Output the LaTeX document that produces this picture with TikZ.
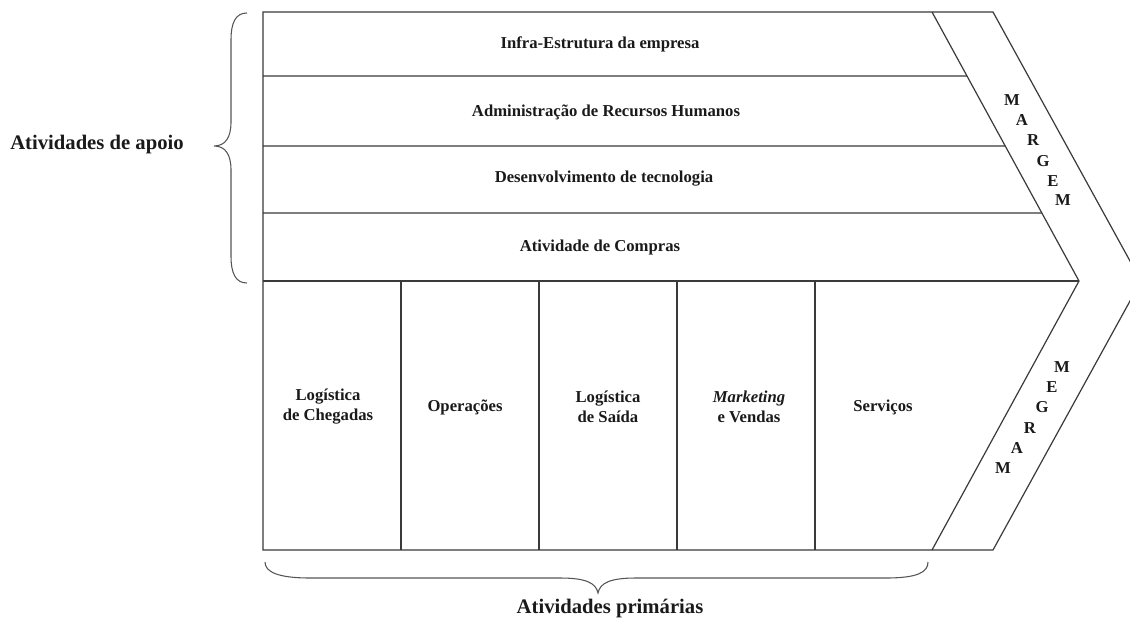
\documentclass[tikz,border=0pt]{standalone}
\usepackage{fontspec}
\setmainfont{Liberation Serif}
\usetikzlibrary{calc}
\definecolor{linec}{HTML}{3A3A3A}
\definecolor{txt}{HTML}{1A1A1A}
\definecolor{bracec}{HTML}{555555}
\begin{document}
\begin{tikzpicture}[x=0.75pt,y=-0.75pt]
\tikzset{
  frame/.style={draw=linec, line width=0.9pt},
  lbl/.style={font=\fontsize{12.5}{15}\selectfont\bfseries, text=txt, align=center, inner sep=0pt},
  sidelbl/.style={font=\fontsize{15.5}{18}\selectfont\bfseries, text=txt, align=center, inner sep=0pt},
  letter/.style={font=\fontsize{12.5}{14}\selectfont\bfseries, text=txt, inner sep=0pt},
  bracepath/.style={draw=bracec, line width=0.8pt}
}
\useasboundingbox (0,0) rectangle (1130,621);
\fill[white] (0,0) rectangle (1130,621);
% geometry
\coordinate (TL) at (263,12);
\coordinate (TI) at (932,12);
\coordinate (TO) at (993,12);
\coordinate (MI) at (1079,281);
\coordinate (MO) at (1141,281);
\coordinate (BI) at (932,550);
\coordinate (BO) at (993,550);
\coordinate (BL) at (263,550);
\begin{scope}
  \clip (0,0) rectangle (1130,621);
  \draw[frame] (TL) -- (TO) -- (MO) -- (BO) -- (BL) -- cycle;
\end{scope}
\draw[frame] (TI) -- (MI) -- (BI);
\draw[frame] (263,76) -- ($(TI)!{64/269}!(MI)$);
\draw[frame] (263,146) -- ($(TI)!{134/269}!(MI)$);
\draw[frame] (263,213) -- ($(TI)!{201/269}!(MI)$);
\draw[frame] (263,281) -- (MI);
\foreach \x in {401,539,677,815} \draw[frame] (\x,281) -- (\x,550);
% support activities
\node[lbl] (infra) at (600,44) {Infra-Estrutura da empresa};
\node[lbl] (rh) at (606,112) {Administração de Recursos Humanos};
\node[lbl] (tec) at (604,179) {Desenvolvimento de tecnologia};
\node[lbl] (comp) at (600,247) {Atividade de Compras};
% primary activities
\node[lbl] (logc) at (328,407) {Logística\\de Chegadas};
\node[lbl] (oper) at (465,407) {Operações};
\node[lbl] (logs) at (608,407) {Logística\\de Saída};
\node[lbl] (mkt) at (749,407) {\textit{Marketing}\\e Vendas};
\node[lbl] (serv) at (883,407) {Serviços};
% margem top
\node[letter] (m1) at (1012,100) {M};
\node[letter] (a1) at (1022,120) {A};
\node[letter] (r1) at (1033,140) {R};
\node[letter] (g1) at (1043,161) {G};
\node[letter] (e1) at (1053,181) {E};
\node[letter] (mm1) at (1063,200) {M};
% margem bottom
\node[letter] (m2) at (1062,367) {M};
\node[letter] (e2) at (1052,387) {E};
\node[letter] (g2) at (1042,407) {G};
\node[letter] (r2) at (1030,428) {R};
\node[letter] (a2) at (1017,448) {A};
\node[letter] (mm2) at (1003,468) {M};
% braces
\draw[bracepath] (247,13) .. controls (236,13) and (231,22) .. (231,40) -- (231,122)
  .. controls (231,138) and (225,146) .. (214,146)
  .. controls (225,146) and (231,154) .. (231,170) -- (231,256)
  .. controls (231,274) and (236,283) .. (247,283);
\draw[bracepath] (265,562) .. controls (265,572) and (278,578) .. (310,578) -- (560,578)
  .. controls (586,578) and (596,583) .. (598,593)
  .. controls (600,583) and (610,578) .. (636,578) -- (886,578)
  .. controls (918,578) and (928,572) .. (928,562);
\node[sidelbl] (apoio) at (97,145) {Atividades de apoio};
\node[sidelbl] (prim) at (610,609) {Atividades primárias};
\end{tikzpicture}
\end{document}
